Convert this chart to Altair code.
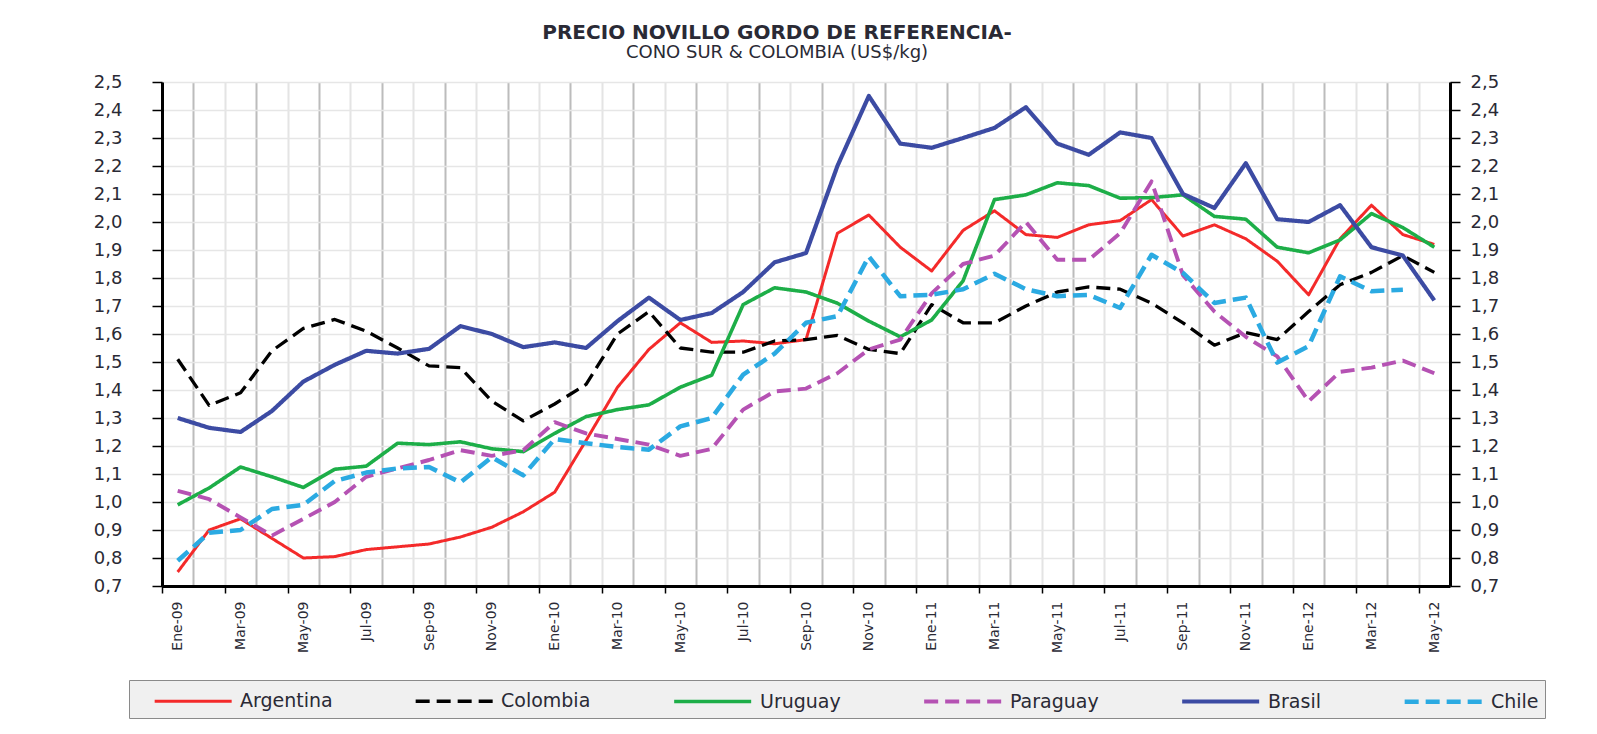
import altair as alt
import pandas as pd

months = [
    "Ene-09", "Feb-09", "Mar-09", "Abr-09", "May-09", "Jun-09", "Jul-09", "Ago-09", "Sep-09", "Oct-09", "Nov-09", "Dic-09",
    "Ene-10", "Feb-10", "Mar-10", "Abr-10", "May-10", "Jun-10", "Jul-10", "Ago-10", "Sep-10", "Oct-10", "Nov-10", "Dic-10",
    "Ene-11", "Feb-11", "Mar-11", "Abr-11", "May-11", "Jun-11", "Jul-11", "Ago-11", "Sep-11", "Oct-11", "Nov-11", "Dic-11",
    "Ene-12", "Feb-12", "Mar-12", "Abr-12", "May-12",
]

series = ["Argentina", "Colombia", "Uruguay", "Paraguay", "Brasil", "Chile"]

argentina = [0.75, 0.90, 0.94, 0.87, 0.80, 0.805, 0.83, 0.84, 0.85, 0.875, 0.91, 0.965,
             1.035, 1.22, 1.41, 1.545, 1.64, 1.57, 1.575, 1.565, 1.58, 1.96, 2.025, 1.91,
             1.825, 1.97, 2.04, 1.955, 1.945, 1.99, 2.005, 2.08, 1.95, 1.99, 1.94, 1.86,
             1.74, 1.94, 2.06, 1.955, 1.92]
colombia = [1.51, 1.345, 1.39, 1.54, 1.62, 1.652, 1.61, 1.55, 1.486, 1.48, 1.36, 1.29,
            1.35, 1.42, 1.60, 1.68, 1.55, 1.535, 1.535, 1.575, 1.58, 1.595, 1.545, 1.53,
            1.705, 1.64, 1.64, 1.70, 1.75, 1.768, 1.76, 1.71, 1.64, 1.56, 1.605, 1.58,
            1.68, 1.776, 1.82, 1.88, 1.82]
uruguay = [0.99, 1.05, 1.125, 1.09, 1.052, 1.117, 1.128, 1.21, 1.205, 1.215, 1.19, 1.18,
           1.245, 1.305, 1.33, 1.347, 1.41, 1.453, 1.705, 1.765, 1.75, 1.71, 1.646, 1.59,
           1.65, 1.79, 2.08, 2.097, 2.14, 2.13, 2.085, 2.087, 2.097, 2.02, 2.01, 1.91,
           1.89, 1.936, 2.03, 1.98, 1.91]
paraguay = [1.04, 1.01, 0.945, 0.88, 0.94, 1.0, 1.09, 1.12, 1.15, 1.185, 1.165, 1.185,
            1.285, 1.245, 1.225, 1.205, 1.165, 1.19, 1.33, 1.395, 1.405, 1.46, 1.545, 1.58,
            1.745, 1.85, 1.88, 2.0, 1.865, 1.865, 1.96, 2.145, 1.81, 1.68, 1.59, 1.52,
            1.36, 1.465, 1.48, 1.505, 1.46]
brasil = [1.30, 1.265, 1.25, 1.325, 1.43, 1.49, 1.54, 1.53, 1.547, 1.628, 1.60, 1.553,
          1.57, 1.55, 1.646, 1.73, 1.65, 1.675, 1.75, 1.856, 1.889, 2.20, 2.45, 2.28,
          2.265, 2.30, 2.336, 2.41, 2.28, 2.24, 2.32, 2.30, 2.10, 2.05, 2.21, 2.01,
          2.00, 2.06, 1.91, 1.88, 1.72]
chile = [0.79, 0.89, 0.90, 0.975, 0.99, 1.075, 1.105, 1.12, 1.125, 1.07, 1.16, 1.095,
         1.225, 1.21, 1.196, 1.187, 1.27, 1.30, 1.455, 1.53, 1.64, 1.664, 1.877, 1.735,
         1.74, 1.76, 1.815, 1.76, 1.735, 1.74, 1.693, 1.883, 1.818, 1.711, 1.73, 1.498,
         1.557, 1.806, 1.753, 1.758, None]

y_ticks = [0.7, 0.8, 0.9, 1.0, 1.1, 1.2, 1.3, 1.4, 1.5, 1.6, 1.7, 1.8, 1.9, 2.0,
           2.1, 2.2, 2.3, 2.4, 2.5]

colors = ["#F42A2A", "#000000", "#1DAE48", "#B552B3", "#3C4BA3", "#2BAAE2"]
dashes = [[1, 0], [14, 7], [1, 0], [14, 7], [1, 0], [14, 7]]
widths = [3, 4.5, 4.5, 4.5, 3, 4.5]

rows = []
for name, vals in zip(series, [argentina, colombia, uruguay, paraguay, brasil, chile]):
    for i, v in enumerate(vals):
        if v is not None:
            rows.append({"serie": name, "idx": i, "mes": months[i], "valor": v})
df = pd.DataFrame(rows)

n = len(months)
W, H = 1288, 504
half_band = W / n / 2
boundaries = [i - 0.5 for i in range(n + 1)]
label_js = "[" + ",".join("'" + m + "'" for m in months) + "]"
xlabel_expr = ("(datum.value + 0.5) % 2 == 0 && datum.value < " + str(n - 1) +
               " ? " + label_js + "[datum.value + 0.5] : ''")

FONT = "DejaVu Sans"
TXT = "#2a2a35"

xscale = alt.Scale(domain=[-0.5, n - 0.5], nice=False, zero=False)
yscale = alt.Scale(domain=[0.7, 2.5], nice=False, zero=False)

xaxis = alt.Axis(
    values=boundaries, title=None, labelExpr=xlabel_expr, labelAngle=-90,
    labelOffset=half_band, labelOverlap=False, labelFlush=False,
    labelFont=FONT, labelFontSize=14, labelColor=TXT, labelPadding=8,
    grid=True,
    gridColor={"condition": {"test": "(datum.value + 0.5) % 2 == 1", "value": "#bcbcbc"}, "value": "#e4e4e4"},
    gridWidth=2,
    tickColor={"condition": {"test": "(datum.value + 0.5) % 2 == 0", "value": "#000000"}, "value": "transparent"},
    tickSize=7, tickWidth=1.5,
    domainColor="#000000", domainWidth=3,
)

yaxis_left = alt.Axis(
    values=y_ticks, title=None, orient="left",
    labelExpr="replace(format(datum.value, '.1f'), '.', ',')",
    labelFont=FONT, labelFontSize=18, labelColor=TXT, labelPadding=30,
    grid=True, gridColor="#e6e6e6", gridWidth=1.5,
    tickColor="#000000", tickSize=10, tickWidth=1.5,
    domainColor="#000000", domainWidth=3,
)
yaxis_right = alt.Axis(
    values=y_ticks, title=None, orient="right",
    labelExpr="replace(format(datum.value, '.1f'), '.', ',')",
    labelFont=FONT, labelFontSize=18, labelColor=TXT, labelPadding=10,
    grid=False,
    tickColor="#000000", tickSize=10, tickWidth=1.5,
    domainColor="#000000", domainWidth=3,
)

legend = alt.Legend(
    title=None, orient="none", legendX=129 - 162, legendY=680 - 82,
    direction="horizontal", symbolType="M-1,0H5", symbolSize=659,
    symbolOffset=18, labelOffset=58, columnPadding=63,
    labelFont=FONT, labelFontSize=19, labelColor=TXT,
    fillColor="#f0f0f0", strokeColor="#8a8a8a", padding=6,
)

lines = alt.Chart(df).mark_line(strokeJoin="round").encode(
    x=alt.X("idx:Q", scale=xscale, axis=xaxis),
    y=alt.Y("valor:Q", scale=yscale, axis=yaxis_left),
    color=alt.Color("serie:N", scale=alt.Scale(domain=series, range=colors), legend=legend),
    strokeDash=alt.StrokeDash("serie:N", scale=alt.Scale(domain=series, range=dashes), legend=legend),
    strokeWidth=alt.StrokeWidth("serie:N", scale=alt.Scale(domain=series, range=widths), legend=legend),
)

right_axis = alt.Chart(df).mark_line(opacity=0).encode(
    x=alt.X("idx:Q", scale=xscale, axis=xaxis),
    y=alt.Y("valor:Q", scale=yscale, axis=yaxis_right),
    detail="serie:N",
)

chart = alt.layer(lines, right_axis).resolve_axis(y="independent").properties(
    width=W, height=H,
    title=alt.TitleParams(
        text="PRECIO NOVILLO GORDO DE REFERENCIA-",
        subtitle="CONO SUR & COLOMBIA (US$/kg)",
        font=FONT, fontSize=20, fontWeight="bold", color=TXT,
        subtitleFont=FONT, subtitleFontSize=18, subtitleColor=TXT,
        subtitlePadding=1, anchor="middle", dx=-29, offset=11,
    ),
    padding={"left": 154, "top": 74, "right": 139, "bottom": 140},
    autosize=alt.AutoSizeParams(type="none"),
    background="white",
).configure_view(stroke="#9a9a9a", strokeWidth=1)

chart.save("out.html", embed_options={"renderer": "svg", "actions": False})
